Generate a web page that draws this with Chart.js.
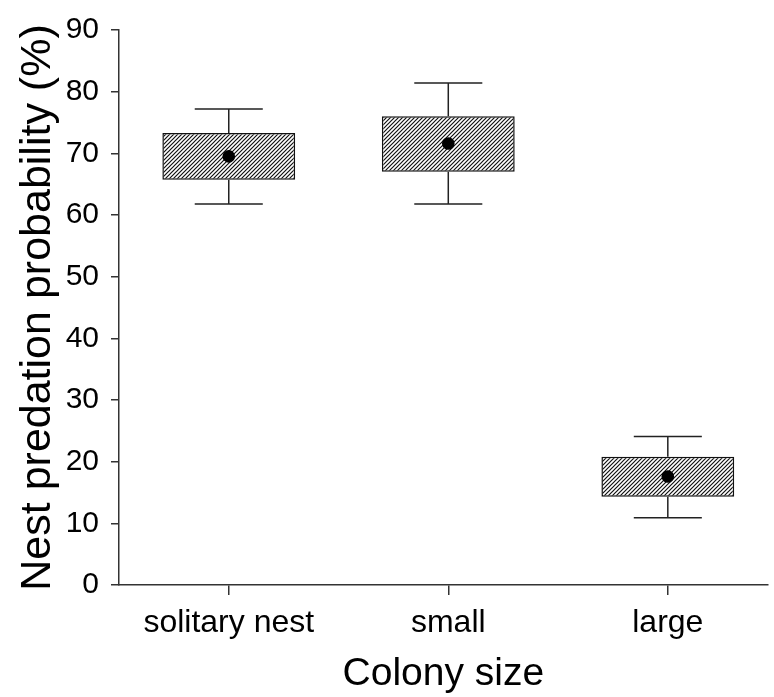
<!DOCTYPE html>
<html><head><meta charset="utf-8">
<script src="https://cdn.jsdelivr.net/npm/chart.js@4/dist/chart.umd.min.js"></script>
<style>html,body{margin:0;padding:0;background:#fff}#wrap{width:774px;height:697px;position:relative}</style>
</head><body><div id="wrap"><canvas id="c" width="774" height="697"></canvas></div>
<script>
// ---- data ----
const categories = ['solitary nest', 'small', 'large'];
const whiskerLow = [61.8, 61.8, 10.9];
const boxLow = [65.7, 67.0, 14.3];
const means = [69.5, 71.6, 17.6];
const boxHigh = [73.3, 76.0, 20.8];
const whiskerHigh = [77.2, 81.4, 24.1];
const yTicks = [0, 10, 20, 30, 40, 50, 60, 70, 80, 90];
const xTitle = 'Colony size';
const yTitle = 'Nest predation probability (%)';

// ---- styles ----
const FONT = "'Liberation Sans', Arial, sans-serif";
const CAP_HALF = 0.155; // in category units
const positions = categories.map((c, i) => i + 1);

function hatch() {
  const s = 4;
  const c = document.createElement('canvas');
  c.width = s; c.height = s;
  const g = c.getContext('2d');
  g.fillStyle = '#fff'; g.fillRect(0, 0, s, s);
  g.strokeStyle = '#111'; g.lineWidth = 1.2;
  g.beginPath();
  g.moveTo(-1, s + 1); g.lineTo(s + 1, -1);
  g.moveTo(-1, 1); g.lineTo(1, -1);
  g.moveTo(s - 1, s + 1); g.lineTo(s + 1, s - 1);
  g.stroke();
  return g.createPattern(c, 'repeat');
}
const ctx = document.getElementById('c').getContext('2d');
const pattern = hatch();

const whiskerPlugin = {
  id: 'whiskers',
  afterDatasetsDraw(chart) {
    const x = chart.scales.x, y = chart.scales.y, g = chart.ctx;
    g.save();
    g.strokeStyle = '#222'; g.lineWidth = 1.5;
    positions.forEach((p, i) => {
      const px = x.getPixelForValue(p);
      const l = x.getPixelForValue(p - CAP_HALF), r = x.getPixelForValue(p + CAP_HALF);
      const yh = y.getPixelForValue(whiskerHigh[i]), yb = y.getPixelForValue(boxHigh[i]);
      const yl = y.getPixelForValue(whiskerLow[i]), ybl = y.getPixelForValue(boxLow[i]);
      g.beginPath();
      g.moveTo(px, yb); g.lineTo(px, yh);
      g.moveTo(l, yh); g.lineTo(r, yh);
      g.moveTo(px, ybl); g.lineTo(px, yl);
      g.moveTo(l, yl); g.lineTo(r, yl);
      g.stroke();
    });
    g.restore();
  }
};

new Chart(ctx, {
  type: 'bar',
  data: {
    datasets: [
      {
        type: 'bar',
        data: positions.map((p, i) => ({ x: p, y: [boxLow[i], boxHigh[i]] })),
        backgroundColor: pattern,
        borderColor: '#111',
        borderWidth: 1.5,
        borderSkipped: false,
        barPercentage: 0.605,
        categoryPercentage: 1,
        order: 2
      },
      {
        type: 'scatter',
        data: positions.map((p, i) => ({ x: p, y: means[i] })),
        pointRadius: 6.3,
        pointBackgroundColor: '#000',
        pointBorderColor: '#000',
        pointBorderWidth: 0,
        showLine: false,
        order: 1
      }
    ]
  },
  options: {
    responsive: false,
    animation: false,
    events: [],
    layout: { padding: { top: 27, right: 0, left: 0, bottom: 0 } },
    plugins: { legend: { display: false }, tooltip: { enabled: false } },
    scales: {
      x: {
        type: 'linear',
        min: 0.5,
        max: 3.455,
        offset: false,
        afterBuildTicks: s => { s.ticks = positions.map(v => ({ value: v })); },
        afterFit: s => { s.height = 112; },
        ticks: {
          callback: v => categories[v - 1],
          font: { family: FONT, size: 32 },
          color: '#000',
          padding: 9,
          maxRotation: 0,
          autoSkip: false
        },
        grid: { display: true, offset: false, drawOnChartArea: false, drawTicks: true, tickLength: 10, color: '#333', lineWidth: 1.5 },
        border: { display: true, color: '#333', width: 1.5 },
        title: { display: true, text: xTitle, font: { family: FONT, size: 39 }, color: '#000', padding: { top: 0, bottom: -1 } }
      },
      y: {
        type: 'linear',
        min: 0,
        max: 90,
        afterBuildTicks: s => { s.ticks = yTicks.map(v => ({ value: v })); },
        afterFit: s => { s.width = 119; },
        ticks: { font: { family: FONT, size: 30 }, color: '#000', padding: 12 },
        grid: { display: true, drawOnChartArea: false, drawTicks: true, tickLength: 8, color: '#333', lineWidth: 1.5 },
        border: { display: true, color: '#333', width: 1.5 },
        title: { display: true, text: yTitle, font: { family: FONT, size: 43 }, color: '#000', padding: { top: 12, bottom: 0 } }
      }
    }
  },
  plugins: [whiskerPlugin]
});
</script>
</body></html>
